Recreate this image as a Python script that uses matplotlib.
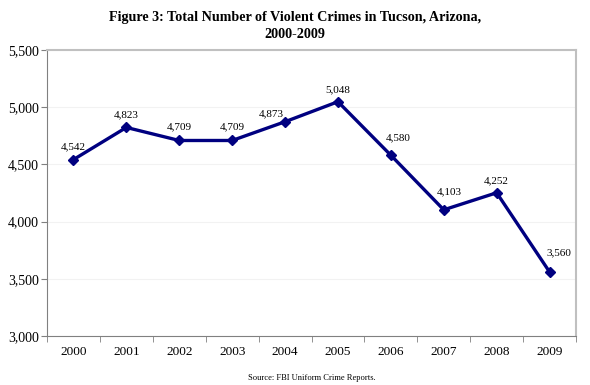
import matplotlib
matplotlib.use("Agg")
import matplotlib.pyplot as plt
import numpy as np

years = ["2000", "2001", "2002", "2003", "2004", "2005", "2006", "2007", "2008", "2009"]
crimes = [4542, 4823, 4709, 4709, 4873, 5048, 4580, 4103, 4252, 3560]
y_ticks = [3000, 3500, 4000, 4500, 5000, 5500]
# label nudges (pixels) where the original chart placed them
label_dx = [0, 0, 0, 0, -14, 0, 7, 5, 0, 9]
label_dy = [13, 13, 14, 14, 8, 12, 17, 18, 12, 19]

plt.rcParams["font.family"] = ["Liberation Serif", "DejaVu Serif"]

fig = plt.figure(figsize=(5.9, 3.85), dpi=100)
ax = fig.add_axes([47 / 590, 1 - 336 / 385, 529 / 590, 286 / 385])

x = np.arange(len(years))
ax.plot(x, crimes, color="#000080", lw=2.4, marker="D", ms=5.5, zorder=3)
for xi, v, dx, dy in zip(x, crimes, label_dx, label_dy):
    ax.annotate(f"{v:,}", (xi, v), xytext=(dx * 0.72, dy * 0.72), textcoords="offset points",
                ha="center", va="center", fontsize=8)

ax.set_xlim(-0.5, len(years) - 0.5)
ax.set_ylim(3000, 5500)
ax.set_yticks(y_ticks)
ax.set_yticklabels([f"{t:,}" for t in y_ticks], fontsize=10)
ax.set_xticks(x)
ax.set_xticklabels(years, fontsize=9.5)
ax.tick_params(axis="x", length=0, pad=7)
ax.set_xticks(np.arange(-0.5, len(years), 1.0), minor=True)
ax.tick_params(axis="x", which="minor", length=4, color="#808080", direction="out")
ax.tick_params(axis="y", length=4, color="#808080", direction="out", pad=2)
ax.grid(axis="y", color="#f2f2f2", lw=0.8)
ax.set_axisbelow(True)

for side in ["left", "bottom"]:
    ax.spines[side].set_color("#808080")
for side in ["top", "right"]:
    ax.spines[side].set_color("#c0c0c0")
    ax.spines[side].set_linewidth(1.5)

fig.text(0.5, 1 - 17 / 385, "Figure 3: Total Number of Violent Crimes in Tucson, Arizona,",
         ha="center", va="center", fontsize=10.2, fontweight="bold")
fig.text(0.5, 1 - 35 / 385, "2000-2009",
         ha="center", va="center", fontsize=10.2, fontweight="bold")
fig.text(0.529, 1 - 378 / 385, "Source: FBI Uniform Crime Reports.", ha="center", va="center",
         fontsize=6.1)

fig.savefig("out.png", dpi=100)
